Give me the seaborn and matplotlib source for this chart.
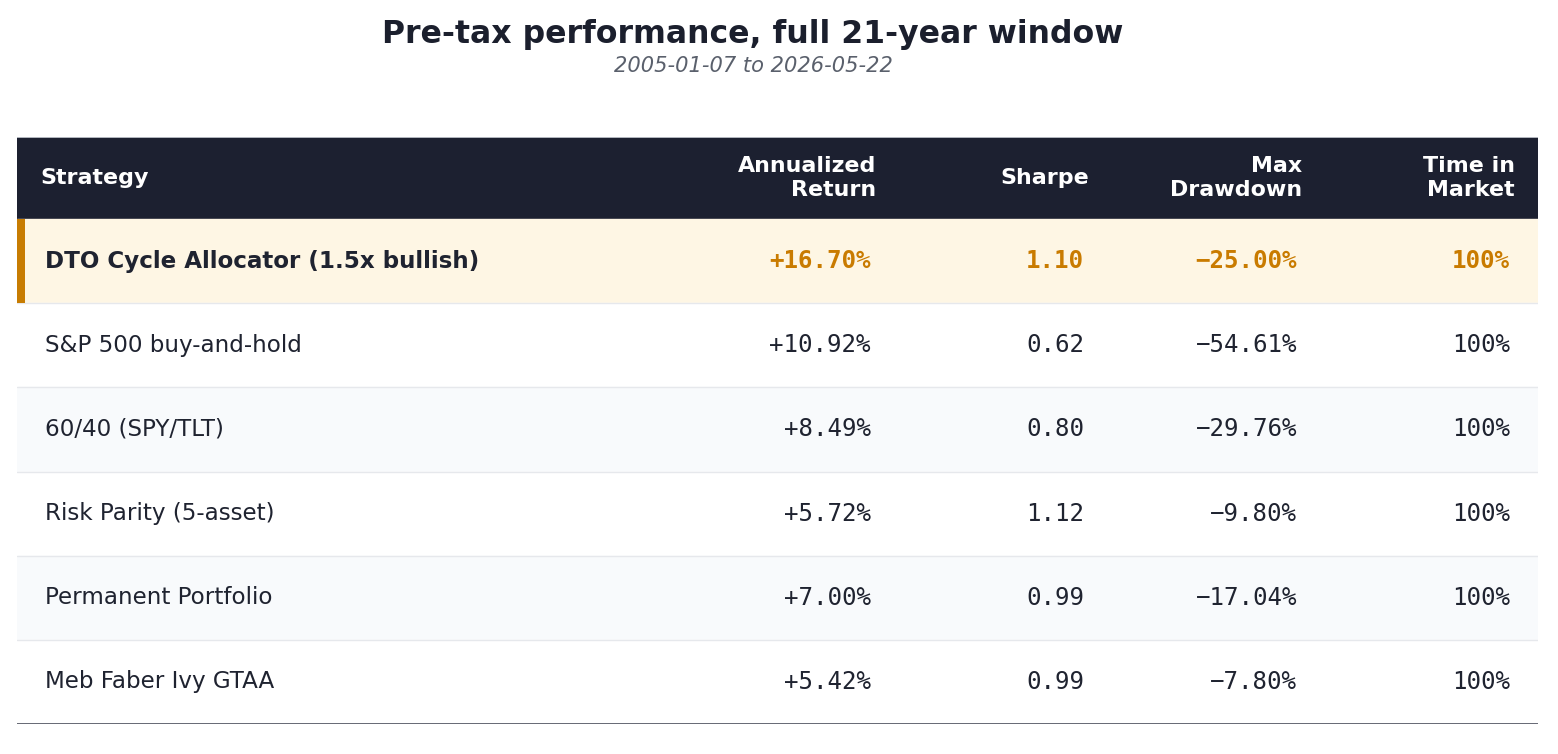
import matplotlib
matplotlib.use("Agg")
import matplotlib.pyplot as plt
import seaborn as sns

sns.set_theme(style="white")
plt.rcParams['font.family'] = ['DejaVu Sans']

title = "Pre-tax performance, full 21-year window"
subtitle = "2005-01-07 to 2026-05-22"
headers = ["Strategy", "Annualized\nReturn", "Sharpe", "Max\nDrawdown", "Time in\nMarket"]
strategies = ["DTO Cycle Allocator (1.5x bullish)", "S&P 500 buy-and-hold", "60/40 (SPY/TLT)",
              "Risk Parity (5-asset)", "Permanent Portfolio", "Meb Faber Ivy GTAA"]
ann_return = ["+16.70%", "+10.92%", "+8.49%", "+5.72%", "+7.00%", "+5.42%"]
sharpe = ["1.10", "0.62", "0.80", "1.12", "0.99", "0.99"]
max_dd = ["\u221225.00%", "\u221254.61%", "\u221229.76%", "\u22129.80%", "\u221217.04%", "\u22127.80%"]
time_in = ["100%", "100%", "100%", "100%", "100%", "100%"]
highlight = 0

W, H = 1558, 754
fig = plt.figure(figsize=(W / 100, H / 100), dpi=100)
fig.patch.set_facecolor("white")

left, right, top, bottom = 17, 1538, 137, 724
ax = fig.add_axes([left / W, (H - bottom) / H, (right - left) / W, (bottom - top) / H])
tw = right - left
hh = 82 / 84.0
n = len(strategies)
ax.set_xlim(0, tw)
ax.set_ylim(hh + n, 0)
ax.axis("off")

dark = "#1b1f2d"
orange = "#c97b00"
text_c = "#1f2330"

# header
ax.axhspan(0, hh, xmin=0, xmax=1, color="#1c2030", zorder=1)
ax.axhline(0, color="#cfd3da", lw=1.2, zorder=2)
col_right = [854, 1067, 1280, 1493]
ax.text(23, hh / 2, headers[0], color="white", fontsize=15.9, fontweight="bold",
        ha="left", va="center", zorder=3)
for xr, h in zip(col_right, headers[1:]):
    ax.text(xr + 5, hh / 2, h, color="white", fontsize=15.9, fontweight="bold",
            ha="right", va="center", linespacing=1.25, zorder=3)

cols = [ann_return, sharpe, max_dd, time_in]
for i, name in enumerate(strategies):
    y0 = hh + i
    if i == highlight:
        bg = "#fef6e4"
    elif i % 2 == 0:
        bg = "#f8fafc"
    else:
        bg = "white"
    ax.axhspan(y0, y0 + 1, color=bg, zorder=1)
    if i < n - 1:
        ax.axhline(y0 + 1, color="#e6e8ec", lw=1, zorder=2)
    yc = y0 + 0.5
    is_h = i == highlight
    ax.text(28, yc, name, color=text_c, fontsize=16.6,
            fontweight="bold" if is_h else "normal", ha="left", va="center", zorder=3)
    for xr, col in zip(col_right, cols):
        ax.text(xr, yc, col[i], color=orange if is_h else text_c, fontsize=17.4,
                family="DejaVu Sans Mono", fontweight="bold" if is_h else "normal",
                ha="right", va="center", zorder=3)
    if is_h:
        ax.fill_betweenx([y0, y0 + 1], 0, 8, color="#c77c02", zorder=2, lw=0)

ax.axhline(hh + n, color="#4b4f5c", lw=1.2, zorder=3)

fig.text(753 / W, 1 - 34 / H, title, ha="center", va="center", fontsize=22.7,
         fontweight="bold", color=dark)
fig.text(753 / W, 1 - 66 / H, subtitle, ha="center", va="center", fontsize=15.1,
         style="italic", color="#5a606c")

fig.savefig("out.png", dpi=100, facecolor="white")
